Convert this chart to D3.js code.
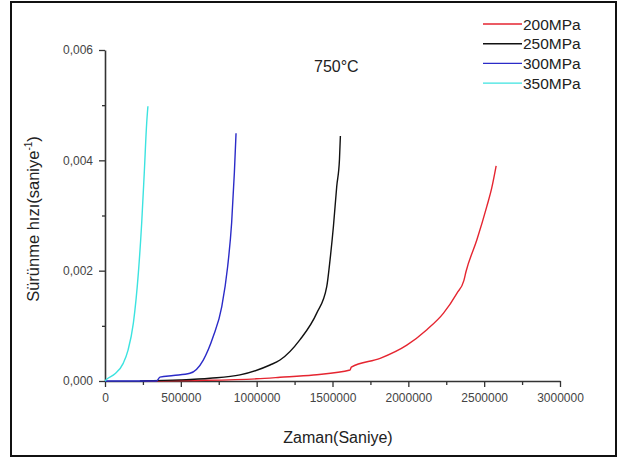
<!DOCTYPE html>
<html lang="tr">
<head>
  <meta charset="UTF-8">
  <title>Sürünme hızı 750°C</title>
  <script src="https://cdn.jsdelivr.net/npm/d3@7"></script>
  <style>
    body { margin:0; background:#fff; }
    svg { display:block; font-family: Arial, "Liberation Sans", sans-serif; }
    .tick text { fill:#444; font-size:12px; }
  </style>
</head>
<body>
<svg id="chart" width="621" height="461"></svg>
<script>
// seri adları ve renkleri
const series = ["200MPa", "250MPa", "300MPa", "350MPa"];
const colors = ["#e52530", "#111111", "#2b2bc8", "#3ce3e0"];

// zaman (saniye) ve sürünme hızı (1/saniye) değerleri
const t200 = [260000, 600000, 1000000, 1154000, 1374000, 1616000, 1624000, 1814000, 1990000, 2122000, 2232000, 2320000, 2366000, 2380000, 2452000, 2518000, 2550000, 2579000];
const v200 = [0, 0.00001, 0.00004, 0.000067, 0.00011, 0.0002, 0.00025, 0.00041, 0.00065, 0.00093, 0.00123, 0.00159, 0.00182, 0.00198, 0.00256, 0.00317, 0.0035, 0.0039];

const t250 = [230000, 500000, 692000, 890000, 1088000, 1154000, 1286000, 1396000, 1462000, 1484000, 1506000, 1528000, 1546000, 1552000];
const v250 = [0, 0.00002, 0.00005, 0.00011, 0.00029, 0.00038, 0.00075, 0.00123, 0.00171, 0.0022, 0.0028, 0.00353, 0.00402, 0.00444];

const t300 = [0, 340000, 362000, 450000, 560000, 648000, 714000, 770000, 809000, 835000, 853000, 864000];
const v300 = [0, 0, 0.00007, 0.0001, 0.00014, 0.00038, 0.00081, 0.00135, 0.00208, 0.00287, 0.00378, 0.00449];

const t350 = [0, 11000, 66000, 120000, 152000, 187000, 220000, 242000, 259000, 275000, 283000];
const v350 = [0, 0.00003, 0.00013, 0.00032, 0.00056, 0.00105, 0.00196, 0.00287, 0.00378, 0.00468, 0.00498];

const xTicks = [0, 500000, 1000000, 1500000, 2000000, 2500000, 3000000];
const yTicks = [0, 0.002, 0.004, 0.006];

const data = [[t200, v200], [t250, v250], [t300, v300], [t350, v350]]
  .map(([t, v]) => t.map((d, i) => [d, v[i]]));

const svg = d3.select("#chart");

// dış çerçeve
svg.append("rect")
  .attr("x", 11).attr("y", 2).attr("width", 605).attr("height", 454)
  .attr("fill", "none").attr("stroke", "#111").attr("stroke-width", 2);

const x = d3.scaleLinear().domain([0, 3000000]).range([105, 560]);
const y = d3.scaleLinear().domain([0, 0.006]).range([381, 50]);

// küçük çentikler
svg.append("g")
  .attr("transform", "translate(0,381)")
  .call(d3.axisBottom(x).tickValues(d3.range(250000, 3000000, 500000)).tickSize(4).tickFormat(""))
  .call(g => g.select(".domain").remove())
  .selectAll("line").attr("stroke", "#333").attr("stroke-width", 1.3);
svg.append("g")
  .attr("transform", "translate(105,0)")
  .call(d3.axisLeft(y).tickValues([0.001, 0.003, 0.005]).tickSize(3).tickFormat(""))
  .call(g => g.select(".domain").remove())
  .selectAll("line").attr("stroke", "#333").attr("stroke-width", 1.3);

// eksenler
const xAxis = svg.append("g")
  .attr("transform", "translate(0,381)")
  .call(d3.axisBottom(x).tickValues(xTicks).tickSize(6).tickSizeOuter(0).tickPadding(6).tickFormat(d3.format("d")));
const yAxis = svg.append("g")
  .attr("transform", "translate(105,0)")
  .call(d3.axisLeft(y).tickValues(yTicks).tickSize(6).tickSizeOuter(0).tickPadding(6)
    .tickFormat(d => d3.format(".3f")(d).replace(".", ",")));
[xAxis, yAxis].forEach(g => {
  g.select(".domain").attr("stroke", "#333").attr("stroke-width", 1.6);
  g.selectAll(".tick line").attr("stroke", "#333").attr("stroke-width", 1.3);
  g.selectAll(".tick text").attr("font-family", "Arial, 'Liberation Sans', sans-serif");
});

// eğriler
const line = d3.line().curve(d3.curveMonotoneX).x(d => x(d[0])).y(d => y(d[1]));
data.forEach((d, i) => {
  svg.append("path")
    .attr("d", line(d))
    .attr("fill", "none")
    .attr("stroke", colors[i])
    .attr("stroke-width", 1.4);
});

// başlıklar
svg.append("text")
  .attr("x", 338).attr("y", 443)
  .attr("text-anchor", "middle")
  .attr("font-size", 16).attr("fill", "#222")
  .text("Zaman(Saniye)");

const yt = svg.append("text")
  .attr("transform", "translate(39,219) rotate(-90)")
  .attr("text-anchor", "middle")
  .attr("font-size", 16.5).attr("fill", "#222");
yt.append("tspan").text("Sürünme hızı(saniye");
yt.append("tspan").attr("font-size", 10).attr("dy", -7).text("-1");
yt.append("tspan").attr("dy", 7).text(")");

svg.append("text")
  .attr("x", 314).attr("y", 72)
  .attr("font-size", 16).attr("fill", "#222")
  .text("750°C");

// lejant
series.forEach((s, i) => {
  const ly = 24 + i * 19.7;
  svg.append("line")
    .attr("x1", 483).attr("x2", 522)
    .attr("y1", ly).attr("y2", ly)
    .attr("stroke", colors[i]).attr("stroke-width", 1.4);
  svg.append("text")
    .attr("x", 523).attr("y", ly + 5.5)
    .attr("font-size", 15.5).attr("fill", "#222")
    .text(s);
});
</script>
</body>
</html>
